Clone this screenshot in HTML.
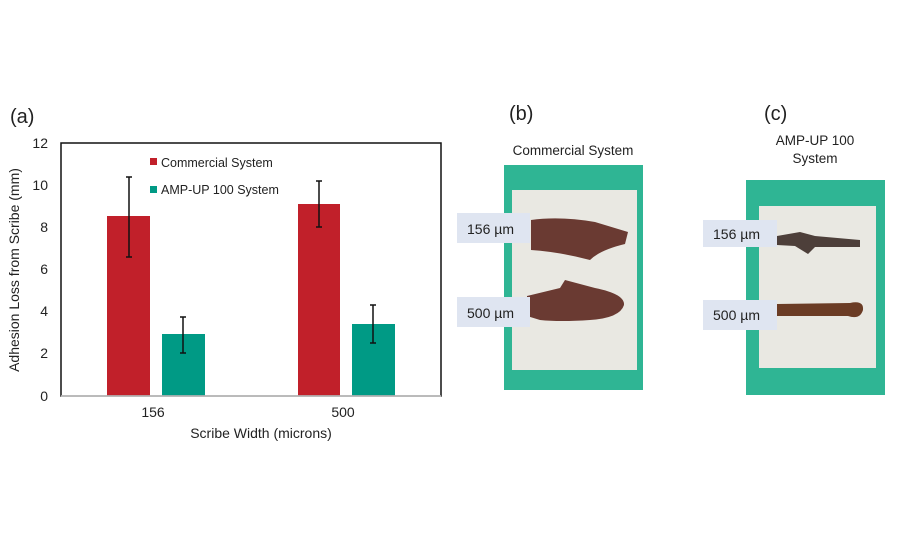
<!DOCTYPE html>
<html><head><style>
body{margin:0;width:900px;height:550px;background:#fff;overflow:hidden}
svg{display:block}
text{font-family:"Liberation Sans",sans-serif;fill:#222}
</style></head><body>
<svg width="900" height="550" viewBox="0 0 900 550">
<text x="10" y="123" font-size="20">(a)</text>
<text x="509" y="120" font-size="20">(b)</text>
<text x="764" y="120" font-size="20">(c)</text>
<!-- chart -->
<g font-size="14" text-anchor="end">
<text x="48" y="148">12</text><text x="48" y="190">10</text><text x="48" y="232">8</text>
<text x="48" y="274">6</text><text x="48" y="316">4</text><text x="48" y="358">2</text><text x="48" y="401">0</text>
</g>
<text transform="translate(19,270) rotate(-90)" font-size="14" text-anchor="middle">Adhesion Loss from Scribe (mm)</text>
<rect x="107" y="216" width="43" height="180" fill="#c1202a"/>
<rect x="162" y="334" width="43" height="62" fill="#009a85"/>
<rect x="298" y="204" width="42" height="192" fill="#c1202a"/>
<rect x="352" y="324" width="43" height="72" fill="#009a85"/>
<rect x="61" y="143" width="380" height="253" fill="none" stroke="#111" stroke-width="1.5"/>
<line x1="61" y1="396" x2="441" y2="396" stroke="#ccc" stroke-width="1.5"/>
<g stroke="#111" stroke-width="1.5">
<line x1="129" y1="177" x2="129" y2="257"/><line x1="126" y1="177" x2="132" y2="177"/><line x1="126" y1="257" x2="132" y2="257"/>
<line x1="183" y1="317" x2="183" y2="353"/><line x1="180" y1="317" x2="186" y2="317"/><line x1="180" y1="353" x2="186" y2="353"/>
<line x1="319" y1="181" x2="319" y2="227"/><line x1="316" y1="181" x2="322" y2="181"/><line x1="316" y1="227" x2="322" y2="227"/>
<line x1="373" y1="305" x2="373" y2="343"/><line x1="370" y1="305" x2="376" y2="305"/><line x1="370" y1="343" x2="376" y2="343"/>
</g>
<rect x="150" y="158" width="7" height="7" fill="#c1202a"/>
<text x="161" y="167" font-size="12.5">Commercial System</text>
<rect x="150" y="186" width="7" height="7" fill="#009a85"/>
<text x="161" y="194" font-size="12.5">AMP-UP 100 System</text>
<text x="153" y="417" font-size="14" text-anchor="middle">156</text>
<text x="343" y="417" font-size="14" text-anchor="middle">500</text>
<text x="261" y="438" font-size="14" text-anchor="middle">Scribe Width (microns)</text>
<!-- panel b -->
<text x="573" y="155" font-size="13.5" text-anchor="middle">Commercial System</text>
<rect x="504" y="165" width="139" height="225" fill="#2fb594"/>
<rect x="512" y="190" width="125" height="180" fill="#e9e8e2"/>
<path d="M531 220 Q560 216 595 222 L628 232 L625 244 Q600 250 590 260 Q560 252 531 250 Z" fill="#6a3a32"/>
<path d="M527 296 L560 288 L565 280 L595 288 Q625 294 624 305 Q620 318 590 320 Q560 322 540 320 L527 316 Z" fill="#6a3a32"/>
<rect x="457" y="213" width="73" height="30" fill="#dfe5f1"/>
<text x="467" y="234" font-size="14">156 µm</text>
<rect x="457" y="297" width="73" height="30" fill="#dfe5f1"/>
<text x="467" y="318" font-size="14">500 µm</text>
<!-- panel c -->
<text x="815" y="145" font-size="13.5" text-anchor="middle">AMP-UP 100</text>
<text x="815" y="163" font-size="13.5" text-anchor="middle">System</text>
<rect x="746" y="180" width="139" height="215" fill="#2fb594"/>
<rect x="759" y="206" width="117" height="162" fill="#e9e8e2"/>
<path d="M777 236 L800 232 L815 236 L860 240 L860 247 L815 247 L808 254 L795 246 L777 245 Z" fill="#4d3f3a"/>
<path d="M777 304 L850 303 Q864 300 863 310 Q860 320 848 316 L777 316 Z" fill="#6b3c25"/>
<rect x="703" y="220" width="74" height="27" fill="#dfe5f1"/>
<text x="713" y="239" font-size="14">156 µm</text>
<rect x="703" y="300" width="74" height="30" fill="#dfe5f1"/>
<text x="713" y="320" font-size="14">500 µm</text>
</svg>
</body></html>
